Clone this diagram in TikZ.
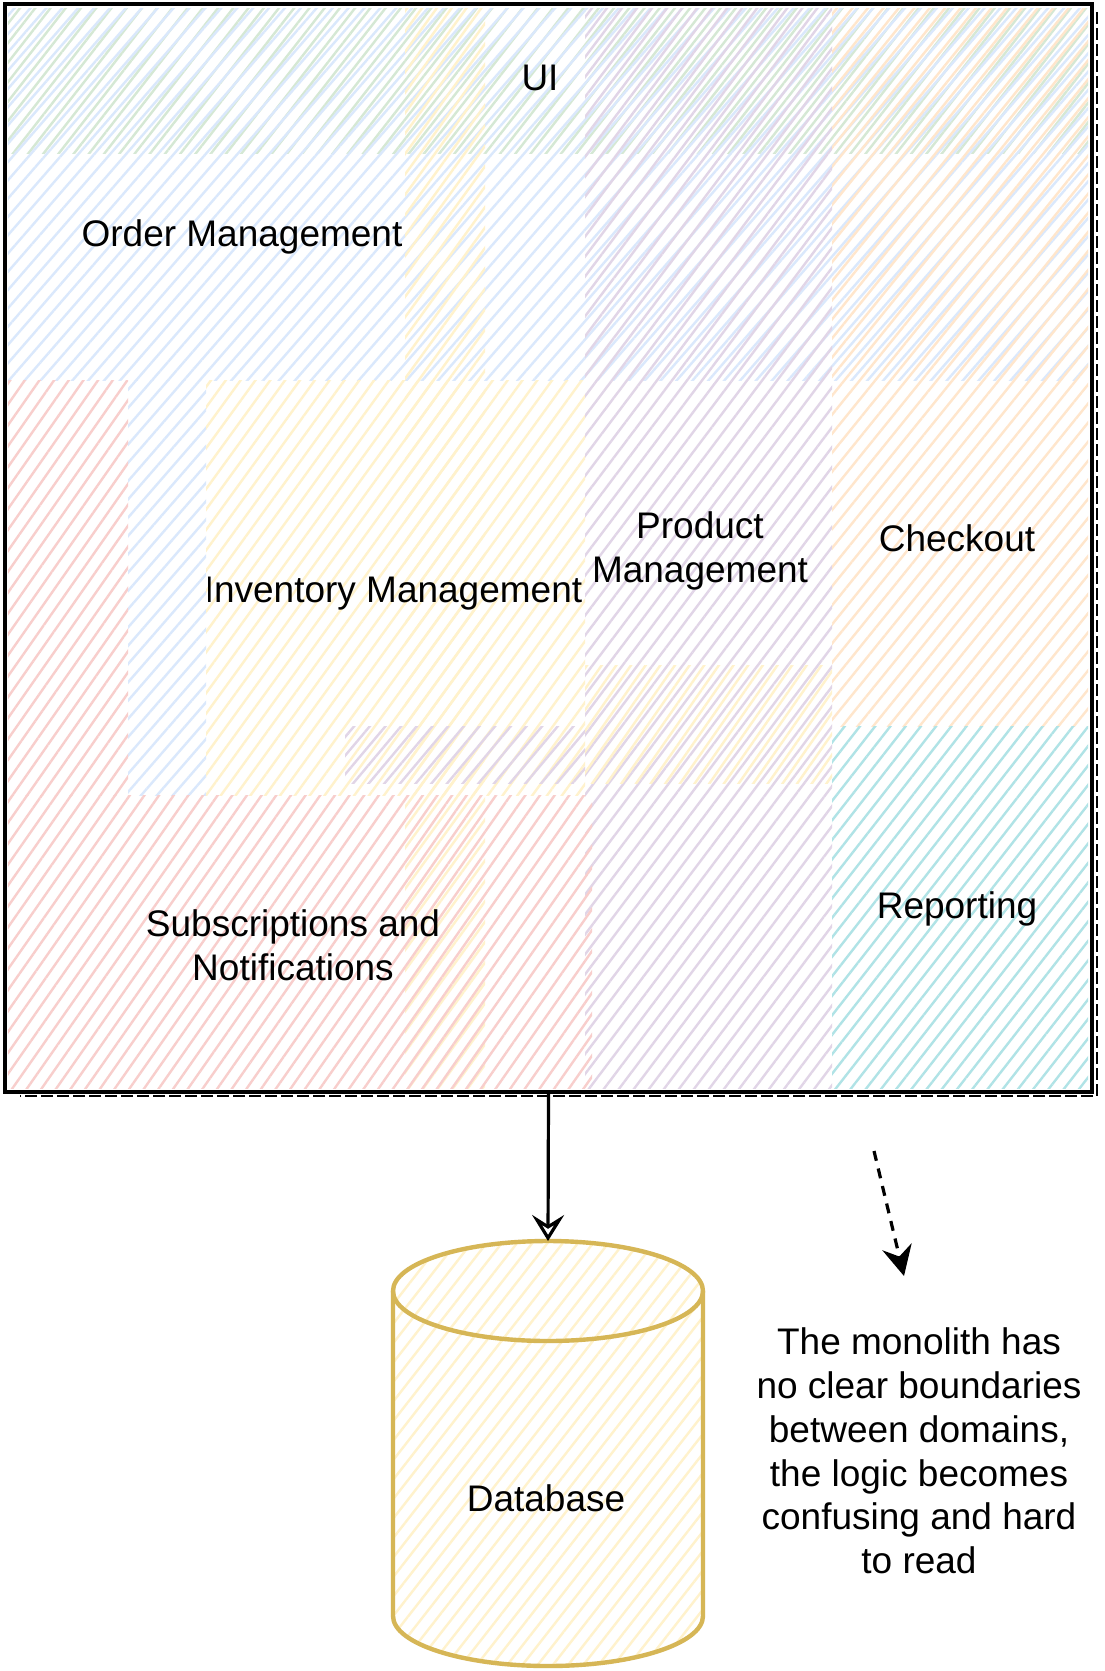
\documentclass[tikz,border=0pt]{standalone}
\usepackage{fontspec}
\setmainfont{Liberation Sans}
\usetikzlibrary{arrows.meta,patterns.meta}
\definecolor{uigreen}{HTML}{D5E8D4}
\definecolor{orderblue}{HTML}{DAE8FC}
\definecolor{invyellow}{HTML}{FFF2CC}
\definecolor{prodpurple}{HTML}{E1D5E7}
\definecolor{checkorange}{HTML}{FFE6CC}
\definecolor{subsred}{HTML}{F8CECC}
\definecolor{reportteal}{HTML}{B0E3E6}
\definecolor{dbgold}{HTML}{D6B656}
\begin{document}
\begin{tikzpicture}[
    x=0.5pt, y=-0.5pt,
    font=\fontsize{18.5}{21.9}\selectfont,
    hatch/.style 2 args={pattern={Lines[angle=#1,distance=6pt,line width=1.2pt]}, pattern color=#2},
    txt/.style={align=center, inner sep=0pt},
    monobox/.style={draw=black, line width=1.6pt, minimum width=543.5pt, minimum height=544pt, inner sep=0pt},
    dbline/.style={draw=dbgold, line width=2.2pt},
    flow/.style={line width=1.6pt, -{Stealth[open, length=13pt, width=16pt, inset=5pt]}},
    hint/.style={line width=1.6pt, dash pattern=on 5pt off 4pt, -{Stealth[length=15pt, width=15pt, inset=5pt]}}
]
    \fill[white] (0,0) rectangle (1104,1671);
    \useasboundingbox (0,0) rectangle (1104,1671);

    % domain areas, hatched
    \path[hatch={52}{uigreen}] (8,8) rectangle (1088,153);
    \path[hatch={49}{orderblue}] (8,8) rectangle (1088,380);
    \path[hatch={49}{orderblue}] (128,380) rectangle (206,795);
    \path[hatch={54}{invyellow}] (405,8) rectangle (485,1088);
    \path[hatch={54}{invyellow}] (206,380) rectangle (585,795);
    \path[hatch={53}{prodpurple}] (585,8) rectangle (832,1088);
    \path[hatch={55}{invyellow}] (585,665) rectangle (832,783);
    \path[hatch={50}{prodpurple}] (345,726) rectangle (585,783);
    \path[hatch={51}{checkorange}] (832,8) rectangle (1088,726);
    \path[hatch={52}{reportteal}] (832,726) rectangle (1088,1088);
    \path[hatch={55}{subsred}] (8,380) rectangle (128,795);
    \path[hatch={55}{subsred}] (8,795) rectangle (592,1088);

    % monolith frame
    \node[monobox] (mono) at (548.5,548) {};
    \draw[line width=1.3pt, dash pattern=on 6pt off 2pt] (1097,12) -- (1097,1096) -- (20,1096);

    \node[txt] (ui) at (540,78) {UI};
    \node[txt] (order) at (242,237) {Order Management};
    \begin{scope}
        \clip (208.5,380) rectangle (600,800);
        \node[txt] (inv) at (393,594) {Inventory Management};
    \end{scope}
    \node[txt] (prod) at (700,551) {Product\\Management};
    \node[txt] (check) at (957,538) {Checkout};
    \node[txt] (report) at (957,909) {Reporting};
    \node[txt] (subs) at (293,945) {Subscriptions and\\Notifications};

    % database
    \coordinate (dbtop) at (548,1241);
    \path[fill=white, postaction={hatch={52}{invyellow}}] (393,1291) -- (393,1616)
        arc[start angle=180, end angle=0, x radius=155, y radius=50] -- (703,1291)
        arc[start angle=0, end angle=-180, x radius=155, y radius=50] -- cycle;
    \draw[dbline] (393,1291) -- (393,1616)
        arc[start angle=180, end angle=0, x radius=155, y radius=50] -- (703,1291);
    \draw[dbline] (548,1291) ellipse [x radius=155, y radius=50];
    \node[txt] (db) at (546,1498) {Database};

    \draw[flow] (mono.south) -- (dbtop);

    % remark
    \coordinate (hintA) at (874,1151);
    \coordinate (hintB) at (904,1276);
    \draw[hint] (hintA) -- (hintB);
    \node[txt] (note) at (919,1451) {The monolith has\\no clear boundaries\\between domains,\\the logic becomes\\confusing and hard\\to read};
\end{tikzpicture}
\end{document}
